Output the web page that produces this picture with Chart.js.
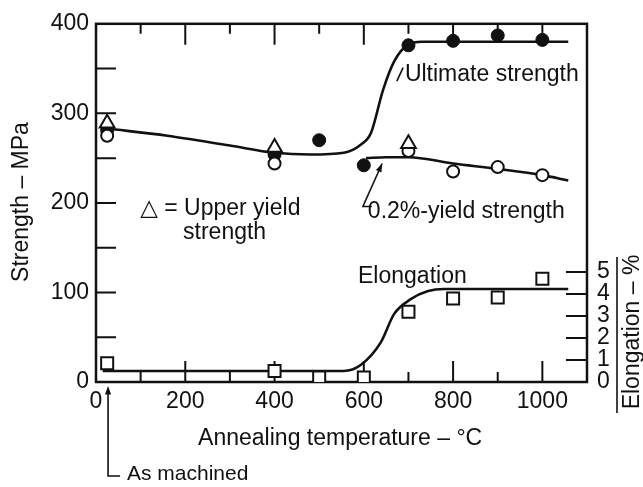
<!DOCTYPE html>
<html>
<head>
<meta charset="utf-8">
<script src="https://cdn.jsdelivr.net/npm/chart.js@4.4.1/dist/chart.umd.min.js"></script>
<style>
  html, body { margin: 0; padding: 0; background: #fff; }
  #wrap { width: 643px; height: 487px; position: relative; }
</style>
</head>
<body>
<div id="wrap"><canvas id="annealChart"></canvas></div>
<script>
// test points, annealing temperature in °C
const tempPts = [25, 400, 500, 600, 700, 800, 900, 1000];
const ultimatePts = [281, 254, 270, 242, 376, 381, 387, 382];   // MPa
const elongPts = [0.85, 0.5, 0.2, 0.2, 3.2, 3.8, 3.85, 4.7];   // %

const yieldTemps = [25, 400, 700, 800, 900, 1000];
const yieldPts = [275, 244, 258, 235, 240, 231];

const upperTemps = [25, 400, 700];
const upperPts = [289, 262, 266];

// faired curves through the points
const ultCurveT = [25, 160, 300, 400, 480, 555, 593, 616, 643, 668, 700, 730, 800, 1058];
const ultCurveS = [283, 275, 264, 256, 254, 256, 265, 278, 326, 358, 377, 380, 380, 380];
const yldCurveT = [605, 650, 700, 800, 900, 1000, 1058];
const yldCurveS = [250, 251, 251, 244, 238, 231, 225];
const elgCurveT = [15, 300, 500, 555, 593, 638, 668, 706, 744, 780, 900, 1058];
const elgCurveE = [0.5, 0.5, 0.5, 0.5, 0.77, 1.8, 3.1, 3.78, 4.14, 4.23, 4.23, 4.23];

// axis ticks
const tempTicks = [0, 200, 400, 600, 800, 1000];
const tempMarks = [100, 200, 300, 400, 500, 600, 700, 800, 900, 1000];
const strengthTicks = [0, 100, 200, 300, 400];
const strengthMarks = [50, 100, 150, 200, 250, 300, 350];
const elongTicks = [0, 1, 2, 3, 4, 5];

const BLACK = '#111';
const FAMILY = '"Liberation Sans", "DejaVu Sans", sans-serif';

const pairs = (xs, ys) => xs.map((x, i) => ({ x, y: ys[i] }));

function arrowHead(ctx, x0, y0, x1, y1, size) {
  const ang = Math.atan2(y1 - y0, x1 - x0);
  ctx.beginPath();
  ctx.moveTo(x1, y1);
  ctx.lineTo(x1 - size * Math.cos(ang - 0.35), y1 - size * Math.sin(ang - 0.35));
  ctx.lineTo(x1 - size * Math.cos(ang + 0.35), y1 - size * Math.sin(ang + 0.35));
  ctx.closePath();
  ctx.fill();
}

// frame, inward tick marks, labels and leaders
const frameAndNotes = {
  id: 'frameAndNotes',
  beforeDatasetsDraw(chart) {
    const { ctx, chartArea: a } = chart;
    const { x, y, yR } = chart.scales;
    ctx.save();
    ctx.strokeStyle = BLACK;
    ctx.lineWidth = 2.5;
    ctx.strokeRect(a.left, a.top, a.right - a.left, a.bottom - a.top);
    ctx.lineWidth = 2;
    ctx.beginPath();
    strengthMarks.forEach(v => {
      const py = y.getPixelForValue(v);
      ctx.moveTo(a.left, py); ctx.lineTo(a.left + 20, py);
    });
    tempMarks.forEach(v => {
      const px = x.getPixelForValue(v);
      const len = v % 200 === 0 ? 21 : 10;
      ctx.moveTo(px, a.top); ctx.lineTo(px, a.top + len);
      ctx.moveTo(px, a.bottom); ctx.lineTo(px, a.bottom - len);
    });
    elongTicks.forEach(v => {
      const py = yR.getPixelForValue(v);
      ctx.moveTo(a.right, py); ctx.lineTo(a.right - 21, py);
    });
    ctx.stroke();
    ctx.restore();
  },
  afterDraw(chart) {
    const { ctx, chartArea: a } = chart;
    const { x, y } = chart.scales;
    const px = t => x.getPixelForValue(t);
    const py = s => y.getPixelForValue(s);
    ctx.save();
    ctx.fillStyle = BLACK;
    ctx.strokeStyle = BLACK;
    ctx.lineWidth = 1.6;
    ctx.textBaseline = 'alphabetic';
    ctx.textAlign = 'left';
    ctx.font = '23px ' + FAMILY;

    // curve labels
    ctx.fillText('Ultimate strength', px(692), py(336));
    ctx.beginPath();
    ctx.moveTo(px(674), py(336)); ctx.lineTo(px(688), py(351));
    ctx.stroke();

    ctx.fillText('0.2%-yield strength', px(609), py(183));
    ctx.beginPath();
    ctx.moveTo(px(618), py(196)); ctx.lineTo(px(598), py(196)); ctx.lineTo(px(641), py(244));
    ctx.stroke();
    arrowHead(ctx, px(598), py(196), px(641), py(244), 9);

    ctx.fillText('△ = Upper yield', px(99), py(187));
    ctx.fillText('strength', px(195), py(160));

    ctx.fillText('Elongation', px(587), py(110));

    // axis titles
    ctx.textAlign = 'center';
    ctx.fillText('Annealing temperature – °C', px(547), a.bottom + 63);

    ctx.save();
    ctx.translate(28, 202);
    ctx.rotate(-Math.PI / 2);
    ctx.fillText('Strength – MPa', 0, 0);
    ctx.restore();

    ctx.save();
    ctx.translate(639, 332);
    ctx.rotate(-Math.PI / 2);
    ctx.fillText('Elongation – %', 0, 0);
    ctx.restore();
    ctx.beginPath();
    ctx.moveTo(617, 257); ctx.lineTo(617, 413);
    ctx.stroke();

    // as-machined pointer
    const ax = px(27);
    ctx.beginPath();
    ctx.moveTo(ax, a.bottom + 10); ctx.lineTo(ax, a.bottom + 94); ctx.lineTo(ax + 12, a.bottom + 94);
    ctx.stroke();
    arrowHead(ctx, ax, a.bottom + 20, ax, a.bottom + 4, 9);
    ctx.textAlign = 'left';
    ctx.font = '21px ' + FAMILY;
    ctx.fillText('As machined', 127, a.bottom + 98);
    ctx.restore();
  }
};

const tickFont = { family: FAMILY, size: 23 };
const plain = v => String(v);

new Chart(document.getElementById('annealChart'), {
  type: 'scatter',
  data: {
    datasets: [
      {
        label: 'Upper yield strength',
        data: pairs(upperTemps, upperPts),
        pointStyle: 'triangle', pointRadius: 8.5,
        backgroundColor: '#fff', borderColor: BLACK, borderWidth: 2
      },
      {
        label: '0.2%-yield strength',
        data: pairs(yieldTemps, yieldPts),
        pointStyle: 'circle', pointRadius: 6,
        backgroundColor: '#fff', borderColor: BLACK, borderWidth: 2
      },
      {
        label: 'Ultimate strength',
        data: pairs(tempPts, ultimatePts),
        pointStyle: 'circle', pointRadius: 6.5,
        backgroundColor: BLACK, borderColor: BLACK, borderWidth: 1
      },
      {
        label: 'Elongation',
        data: pairs(tempPts, elongPts),
        yAxisID: 'yR',
        pointStyle: 'rect', pointRadius: 8.5,
        backgroundColor: '#fff', borderColor: BLACK, borderWidth: 2
      },
      {
        label: 'Ultimate curve',
        data: pairs(ultCurveT, ultCurveS),
        showLine: true, pointRadius: 0, borderColor: BLACK, borderWidth: 2.6,
        cubicInterpolationMode: 'monotone'
      },
      {
        label: 'Yield curve',
        data: pairs(yldCurveT, yldCurveS),
        showLine: true, pointRadius: 0, borderColor: BLACK, borderWidth: 2.6,
        cubicInterpolationMode: 'monotone'
      },
      {
        label: 'Elongation curve',
        data: pairs(elgCurveT, elgCurveE),
        yAxisID: 'yR',
        showLine: true, pointRadius: 0, borderColor: BLACK, borderWidth: 2.6,
        cubicInterpolationMode: 'monotone'
      }
    ]
  },
  options: {
    responsive: true,
    maintainAspectRatio: false,
    animation: false,
    layout: { padding: { top: 20, left: 0, right: 0, bottom: 0 } },
    plugins: { legend: { display: false }, tooltip: { enabled: false } },
    scales: {
      x: {
        type: 'linear', position: 'bottom', min: 0, max: 1100,
        afterBuildTicks: s => { s.ticks = tempTicks.map(v => ({ value: v })); },
        afterFit: s => { s.height = 105; },
        grid: { display: false, drawTicks: false }, border: { display: false },
        ticks: { font: tickFont, color: BLACK, padding: 6, autoSkip: false, maxRotation: 0, callback: plain }
      },
      y: {
        type: 'linear', position: 'left', min: 0, max: 400,
        afterBuildTicks: s => { s.ticks = strengthTicks.map(v => ({ value: v })); },
        afterFit: s => { s.width = 96; },
        grid: { display: false, drawTicks: false }, border: { display: false },
        ticks: { font: tickFont, color: BLACK, padding: 7, autoSkip: false, callback: plain }
      },
      yR: {
        type: 'linear', position: 'right', min: 0, max: 16.3,
        afterBuildTicks: s => { s.ticks = elongTicks.map(v => ({ value: v })); },
        afterFit: s => { s.width = 56; },
        grid: { display: false, drawTicks: false }, border: { display: false },
        ticks: { font: tickFont, color: BLACK, padding: 10, autoSkip: false, callback: plain }
      }
    }
  },
  plugins: [frameAndNotes]
});
</script>
</body>
</html>
